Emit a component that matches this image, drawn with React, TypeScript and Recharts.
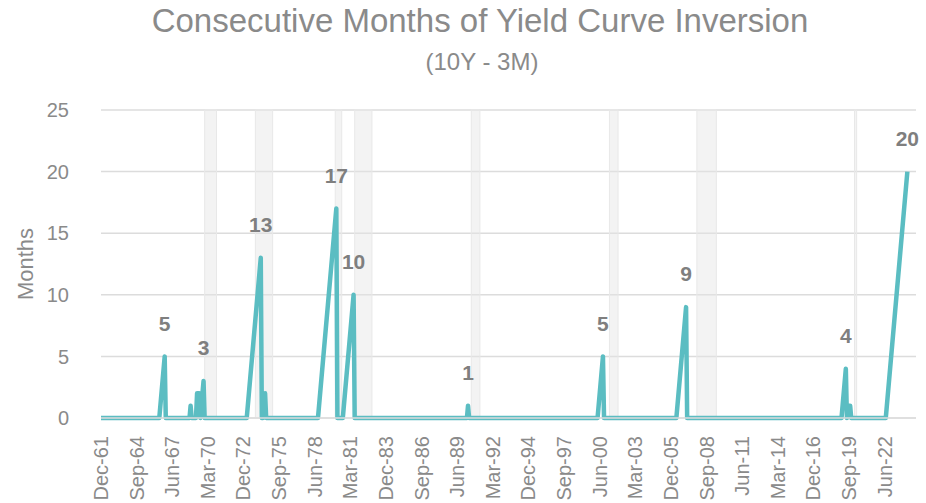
import { LineChart, Line, XAxis, YAxis, CartesianGrid, ReferenceArea } from 'recharts';

// month index counted from Dec-61 (0)
const months = [
  0, 54, 59, 60, 82, 83, 84, 88, 89, 91, 92, 95, 96,
  135, 148, 149, 150, 151, 152, 153, 201, 218, 219, 224, 234, 235,
  339, 340, 341, 460, 465, 466, 533, 542, 543, 686, 690, 691, 692, 694, 695, 727, 747,
];
const inversion = [
  0, 0, 5, 0, 0, 1, 0, 0, 2, 2, 0, 3, 0,
  0, 13, 0, 0, 1, 2, 0, 0, 17, 0, 0, 10, 0,
  0, 1, 0, 0, 5, 0, 0, 9, 0, 0, 4, 0, 1, 1, 0, 0, 20,
];
const labeledMonths = [59, 95, 148, 218, 234, 340, 465, 542, 690, 747];

// recession months (start, end)
const recessionStart = [96, 143, 217, 235, 343, 471, 552, 698];
const recessionEnd = [107, 159, 223, 251, 351, 479, 570, 700];

const tickMonths = [0, 33, 66, 99, 132, 165, 198, 231, 264, 297, 330, 363, 396, 429, 462, 495, 528, 561, 594, 627, 660, 693, 726];
const tickLabels = [
  'Dec-61', 'Sep-64', 'Jun-67', 'Mar-70', 'Dec-72', 'Sep-75', 'Jun-78', 'Mar-81', 'Dec-83', 'Sep-86', 'Jun-89', 'Mar-92',
  'Dec-94', 'Sep-97', 'Jun-00', 'Mar-03', 'Dec-05', 'Sep-08', 'Jun-11', 'Mar-14', 'Dec-16', 'Sep-19', 'Jun-22',
];
const yTicks = [0, 5, 10, 15, 20, 25];

const data = months.map((m, i) => ({ month: m, value: inversion[i] }));

const FONT = '"Liberation Sans", Arial, sans-serif';
const GRAY = '#8a8a8a';

const XTick = (props: any) => {
  const { x, y, payload } = props;
  const idx = tickMonths.indexOf(payload.value);
  return (
    <g transform={`translate(${x},${y + 10})`}>
      <text transform="rotate(-90)" textAnchor="end" dy="0.35em" fill={GRAY} fontSize={20} fontFamily={FONT}>
        {tickLabels[idx]}
      </text>
    </g>
  );
};

const PeakLabel = (props: any) => {
  const { x, y, value, index } = props;
  if (!labeledMonths.includes(data[index].month)) return null;
  return (
    <text x={x} y={y - 33} dy="0.35em" textAnchor="middle" fill="#7f7f7f" fontSize={21} fontWeight="bold" fontFamily={FONT}>
      {value}
    </text>
  );
};

export default function App() {
  return (
    <div style={{ position: 'absolute', left: 0, top: 0, background: '#fff' }}>
      <LineChart width={926} height={503} data={data} margin={{ top: 110, right: 10, left: 0, bottom: 5 }}>
        <text x={480} y={32} textAnchor="middle" fill={GRAY} fontSize={33} fontFamily={FONT}>
          Consecutive Months of Yield Curve Inversion
        </text>
        <text x={482} y={70} textAnchor="middle" fill={GRAY} fontSize={24} fontFamily={FONT}>
          (10Y - 3M)
        </text>
        <text transform="translate(33,264) rotate(-90)" textAnchor="middle" fill={GRAY} fontSize={22} fontFamily={FONT}>
          Months
        </text>
        <CartesianGrid vertical={false} stroke="#dcdcdc" strokeWidth={1.5} />
        {recessionStart.map((s, i) => (
          <ReferenceArea key={s} x1={s} x2={recessionEnd[i]} y1={0} y2={25} fill="#e4e4e4" fillOpacity={0.45} stroke="#e8e8e8" strokeWidth={1} />
        ))}
        <XAxis
          dataKey="month"
          type="number"
          domain={[0, 755]}
          ticks={tickMonths}
          interval={0}
          tick={<XTick />}
          tickLine={false}
          axisLine={{ stroke: '#dcdcdc', strokeWidth: 1.5 }}
          height={80}
        />
        <YAxis
          domain={[0, 25]}
          ticks={yTicks}
          width={101}
          tickLine={false}
          axisLine={false}
          tickMargin={26}
          tick={{ fill: GRAY, fontSize: 20, fontFamily: FONT }}
        />
        <Line
          type="linear"
          dataKey="value"
          stroke="#5bbdc2"
          strokeWidth={4.5}
          strokeLinejoin="round"
          dot={false}
          label={<PeakLabel />}
          isAnimationActive={false}
        />
      </LineChart>
    </div>
  );
}
